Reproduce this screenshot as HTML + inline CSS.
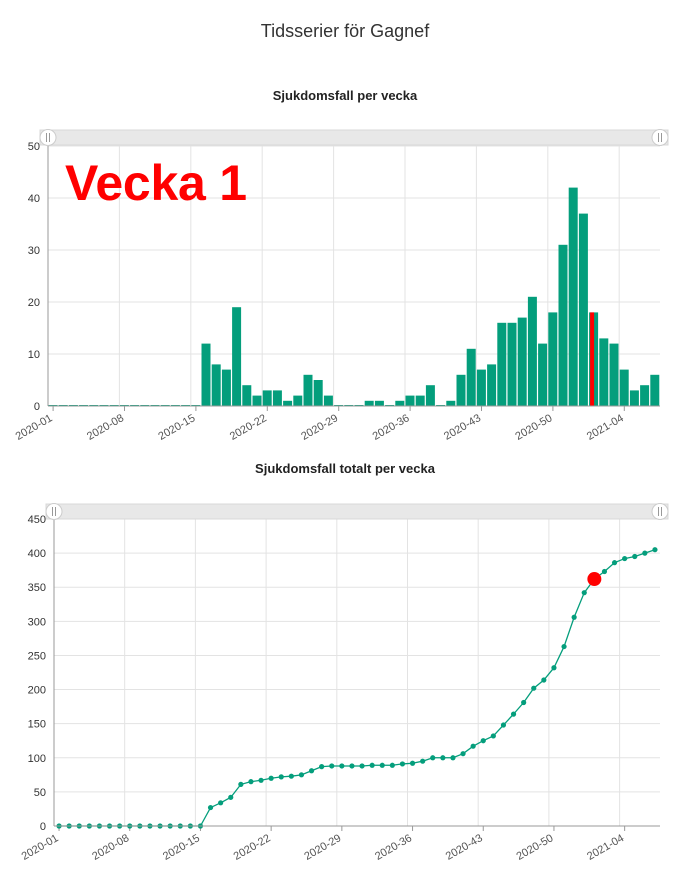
<!DOCTYPE html>
<html><head><meta charset="utf-8"><style>
body{margin:0;background:#fff;font-family:"Liberation Sans",sans-serif;}
svg{display:block}
</style></head><body>
<svg id="s" width="689" height="870">
<text x="345" y="37" text-anchor="middle" font-size="18" fill="#333" font-weight="300">Tidsserier för Gagnef</text>
<text x="345" y="100" text-anchor="middle" font-size="13" fill="#222" font-weight="bold">Sjukdomsfall per vecka</text>
<text x="345" y="473" text-anchor="middle" font-size="13" fill="#222" font-weight="bold">Sjukdomsfall totalt per vecka</text>
<g id="g1"></g>
<g id="g2"></g>
<text x="65" y="200" font-size="50" font-weight="bold" fill="#f00" textLength="182">Vecka 1</text>
</svg>
<script>
const weeks = [];
for (let i=1;i<=53;i++) weeks.push('2020-'+String(i).padStart(2,'0'));
for (let i=1;i<=7;i++) weeks.push('2021-'+String(i).padStart(2,'0'));
const weeklyCases = [0,0,0,0,0,0,0,0,0,0,0,0,0,0,0,12,8,7,19,4,2,3,3,1,2,6,5,2,0,0,0,1,1,0,1,2,2,4,0,1,6,11,7,8,16,16,17,21,12,18,31,42,37,18,13,12,7,3,4,6];
const totalCases = [0,0,0,0,0,0,0,0,0,0,0,0,0,0,0,27,34,42,61,65,67,70,72,73,75,81,87,88,88,88,88,89,89,89,91,92,95,100,100,100,106,117,125,132,148,164,181,202,214,232,263,306,342,362,373,386,392,395,400,405];
const barTicks = [0,10,20,30,40,50];
const lineTicks = [0,50,100,150,200,250,300,350,400,450];
const xTickIdx = [0,7,14,21,28,35,42,49,56];
const selectedIdx = 53;
const NS='http://www.w3.org/2000/svg';
function mk(parent,tag,attrs){const e=document.createElementNS(NS,tag);for(const k in attrs)e.setAttribute(k,attrs[k]);parent.appendChild(e);return e;}
function scrollbar(g,y,x0,x1){
  const r=mk(g,'rect',{x:x0,y:y,width:x1-x0,height:15,fill:'#e8e8e8',stroke:'#d8d8d8'});
  
  
  [x0+8,x1-8].forEach(cx=>{
    const c=mk(g,'circle',{cx:cx,cy:y+7.5,r:8,fill:'#fff',stroke:'#ccc'});
    
    
    mk(g,'line',{x1:cx-1.5,x2:cx-1.5,y1:y+3,y2:y+12,stroke:'#999'});
    mk(g,'line',{x1:cx+1.5,x2:cx+1.5,y1:y+3,y2:y+12,stroke:'#999'});
  });
}
function axes(g,L,R,T,B,max,ticks,bw){
  const ys=v=>B-(v/max)*(B-T);
  ticks.forEach(t=>{
    if(t>0)mk(g,'line',{x1:L,x2:R,y1:ys(t),y2:ys(t),stroke:'#e3e3e3'});
    const tx=mk(g,'text',{x:L-8,y:ys(t)+4,'text-anchor':'end','font-size':11,fill:'#333'});
    tx.textContent=t;
    
    
  });
  xTickIdx.forEach(i=>{
    const gx=L+i*bw, cx=L+(i+0.5)*bw;
    if(i>0)mk(g,'line',{x1:gx,x2:gx,y1:T,y2:B,stroke:'#e3e3e3'});
    mk(g,'line',{x1:cx,x2:cx,y1:B,y2:B+5,stroke:'#999'});
    const tx=mk(g,'text',{x:cx,y:B+14,'text-anchor':'end','font-size':11,fill:'#555',transform:`rotate(-30 ${cx} ${B+14})`});
    tx.textContent=weeks[i];
    
    
  });
  return ys;
}
(function(){
  const g=document.getElementById('g1');
  const L=48,R=660,T=146,B=406,bw=(R-L)/weeks.length;
  const ys=axes(g,L,R,T,B,50,barTicks,bw);
  weeklyCases.forEach((v,i)=>{
    const x=L+i*bw+0.5;
    const r=mk(g,'rect',{x:x,y:ys(v)-(v===0?1:0),width:bw-1.2,height:B-ys(v)+(v===0?1:0),fill:'#049e7c'});
    
    
    if(i===selectedIdx){
      const s=mk(g,'rect',{x:x+1,y:ys(v),width:4,height:B-ys(v),fill:'#f00'});
      
      
    }
  });
  mk(g,'line',{x1:L,x2:L,y1:T,y2:B,stroke:'#999'});
  mk(g,'line',{x1:L,x2:R,y1:B,y2:B,stroke:'#999'});
  scrollbar(g,130,40,668);
})();
(function(){
  const g=document.getElementById('g2');
  const L=54,R=660,T=519,B=826,bw=(R-L)/weeks.length;
  const ys=axes(g,L,R,T,B,450,lineTicks,bw);
  const pts=totalCases.map((v,i)=>[L+(i+0.5)*bw,ys(v)]);
  const p=mk(g,'polyline',{points:pts.map(q=>q.join(',')).join(' '),fill:'none',stroke:'#049e7c','stroke-width':1.3});
  
  
  pts.forEach((q,i)=>{
    const c=mk(g,'circle',{cx:q[0],cy:q[1],r:2.6,fill:'#049e7c'});
    
    
  });
  const s=mk(g,'circle',{cx:pts[selectedIdx][0],cy:pts[selectedIdx][1],r:7,fill:'#f00'});
  
  
  mk(g,'line',{x1:L,x2:L,y1:T,y2:B,stroke:'#999'});
  mk(g,'line',{x1:L,x2:R,y1:B,y2:B,stroke:'#999'});
  scrollbar(g,504,46,668);
})();
</script>
</body></html>
